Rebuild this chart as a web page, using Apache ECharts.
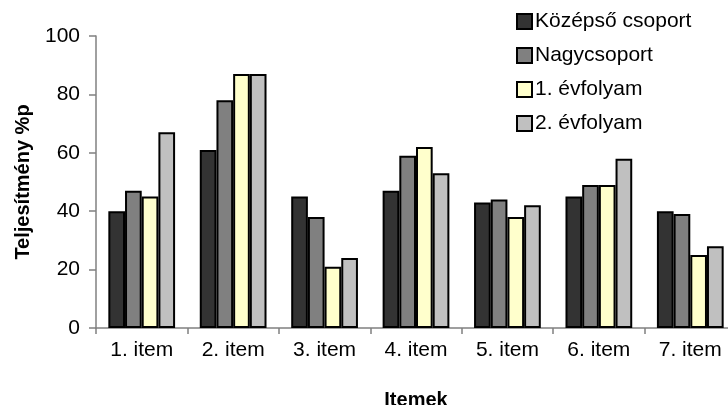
<!DOCTYPE html>
<html>
<head>
<meta charset="utf-8">
<script src="https://cdn.jsdelivr.net/npm/echarts@6/dist/echarts.min.js"></script>
<style>
  html, body { margin: 0; padding: 0; background: #ffffff; }
  #chart { width: 728px; height: 405px; }
</style>
</head>
<body>
<div id="chart"></div>
<script>
// Item categories on the x axis
const categories = ['1. item', '2. item', '3. item', '4. item', '5. item', '6. item', '7. item'];

// Group names (legend order)
const seriesNames = ['Középső csoport', 'Nagycsoport', '1. évfolyam', '2. évfolyam'];

// Performance (%p) per item for each group
const kozepsoCsoport = [40, 61, 45, 47, 43, 45, 40];
const nagycsoport    = [47, 78, 38, 59, 44, 49, 39];
const evfolyam1      = [45, 87, 21, 62, 38, 49, 25];
const evfolyam2      = [67, 87, 24, 53, 42, 58, 28];

const seriesValues = [kozepsoCsoport, nagycsoport, evfolyam1, evfolyam2];
const seriesColors = ['#333333', '#808080', '#FFFFCC', '#C0C0C0'];

const FONT = '"Liberation Sans", Arial, sans-serif';

const chart = echarts.init(document.getElementById('chart'), null, { renderer: 'canvas' });

chart.setOption({
  animation: false,
  backgroundColor: '#ffffff',
  textStyle: { fontFamily: FONT },
  grid: {
    left: 96, width: 640, top: 36, height: 292,
    containLabel: false,
    outerBoundsMode: 'none'
  },
  legend: {
    orient: 'vertical',
    left: 516,
    top: 11,
    padding: 0,
    itemWidth: 15,
    itemHeight: 15,
    itemGap: 13,
    icon: 'rect',
    textStyle: { fontFamily: FONT, fontSize: 21, color: '#000000', padding: [0, 0, 0, -2] },
    itemStyle: { borderColor: '#000000', borderWidth: 2 },
    data: seriesNames
  },
  xAxis: {
    type: 'category',
    data: categories,
    name: 'Itemek',
    nameLocation: 'middle',
    nameGap: 62,
    nameTextStyle: { fontFamily: FONT, fontSize: 20, fontWeight: 'bold', color: '#000000' },
    axisLine: { lineStyle: { color: '#808080', width: 1.5 } },
    axisTick: { show: true, length: 6, inside: false, lineStyle: { color: '#808080', width: 1.5 } },
    axisLabel: { fontFamily: FONT, fontSize: 21, color: '#000000', margin: 12 },
    splitLine: { show: false }
  },
  yAxis: {
    type: 'value',
    min: 0,
    max: 100,
    interval: 20,
    name: 'Teljesítmény %p',
    nameLocation: 'middle',
    nameGap: 63,
    nameTextStyle: { fontFamily: FONT, fontSize: 20, fontWeight: 'bold', color: '#000000' },
    axisLine: { show: true, lineStyle: { color: '#808080', width: 1.5 } },
    axisTick: { show: true, length: 7, lineStyle: { color: '#808080', width: 1.5 } },
    axisLabel: { fontFamily: FONT, fontSize: 21, color: '#000000', margin: 16 },
    splitLine: { show: false }
  },
  series: seriesNames.map((name, i) => ({
    name: name,
    type: 'bar',
    data: seriesValues[i],
    barGap: '0%',
    barCategoryGap: '27%',
    itemStyle: { color: seriesColors[i], borderColor: '#000000', borderWidth: 2 }
  }))
});
</script>
</body>
</html>
